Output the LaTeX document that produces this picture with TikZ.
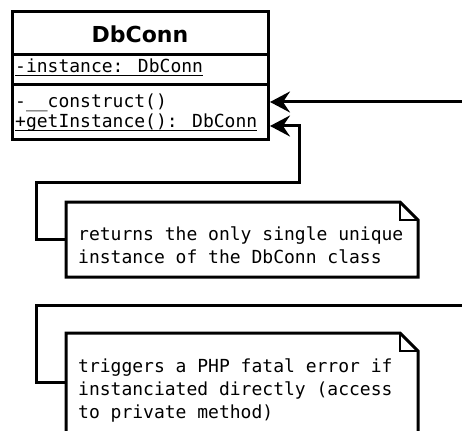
\documentclass[tikz,border=0pt]{standalone}
\usepackage{fontspec}
\setmainfont{DejaVu Sans}
\newfontfamily\codefont{DejaVu Sans Mono}
\usetikzlibrary{arrows.meta}

% underline drawn as a rule under the given text
\newcommand\umlstatic[1]{\setbox0\hbox{#1}\rlap{\rule[-3.5pt]{\wd0}{1.6pt}}\box0}

\tikzset{
  frame/.style={line width=3pt, line join=miter},
  thinline/.style={line width=1.5pt},
  link/.style={line width=3pt},
  openhead/.style={link, -{Stealth[length=20pt, width=21pt, inset=7pt]}},
  classbox/.style={draw, line width=3pt, fill=white, inner sep=0pt, outer sep=0pt,
                   minimum width=256pt, minimum height=128pt, anchor=north west},
  notebody/.style={inner sep=0pt, outer sep=0pt, anchor=north west},
  title/.style={font=\fontsize{22}{26}\selectfont\bfseries, anchor=base, inner sep=0pt},
  member/.style={font=\codefont\fontsize{18}{22}\selectfont, anchor=base west, inner sep=0pt},
}

\begin{document}
\begin{tikzpicture}[x=1pt, y=-1pt]
\useasboundingbox (0,0) rectangle (462,430);
\clip (0,0) rectangle (462,430);

% ---- class DbConn ----
\node[classbox] (dbconn) at (12,12) {};
\coordinate (sepA) at (12,55);
\coordinate (sepB) at (12,85);
\draw[frame] (sepA) -- (sepA -| dbconn.east);
\draw[frame] (sepB) -- (sepB -| dbconn.east);
\node[title] (cname) at (140,43) {DbConn};
\node[member] (attr) at (15,73) {\umlstatic{-instance: DbConn}};
\node[member] (ctor) at (15,108) {-\_\_construct()};
\node[member] (getter) at (15,128) {\umlstatic{+getInstance(): DbConn}};

% ---- note on getInstance ----
\node[notebody, minimum width=352pt, minimum height=75pt] (noteA) at (66,202) {};
\draw[frame, fill=white] (noteA.north west) -- ([xshift=-18pt]noteA.north east)
  -- ([yshift=-18pt]noteA.north east) -- (noteA.south east) -- (noteA.south west) -- cycle;
\draw[thinline] ([xshift=-18pt]noteA.north east) -- ([xshift=-18pt,yshift=-18pt]noteA.north east)
  -- ([yshift=-18pt]noteA.north east);
\node[member] (noteAa) at (78,240) {returns the only single unique};
\node[member] (noteAb) at (78,263) {instance of the DbConn class};

% ---- note on __construct ----
\node[notebody, minimum width=352pt, minimum height=110pt] (noteB) at (66,333) {};
\draw[frame, fill=white] (noteB.north west) -- ([xshift=-18pt]noteB.north east)
  -- ([yshift=-18pt]noteB.north east) -- (noteB.south east) -- (noteB.south west) -- cycle;
\draw[thinline] ([xshift=-18pt]noteB.north east) -- ([xshift=-18pt,yshift=-18pt]noteB.north east)
  -- ([yshift=-18pt]noteB.north east);
\node[member] (noteBa) at (78,372) {triggers a PHP fatal error if};
\node[member] (noteBb) at (78,395) {instanciated directly (access};
\node[member] (noteBc) at (78,418) {to private method)};

% ---- connectors ----
\coordinate (offright) at (480,102);
\coordinate (tipA) at (270,102);
\coordinate (tipB) at (270,126);
\coordinate (leftA) at (noteA.west |- 0,239);
\coordinate (leftB) at (noteB.west |- 0,382);
\coordinate (offrightB) at (480,305);

\draw[openhead] (offright) -- (tipA);
\draw[openhead, line join=miter] (leftA) -- (36,239) -- (36,183) -- (299,183) -- (299,126) -- (tipB);
\draw[link, line join=miter] (leftB) -- (36,382) -- (36,305) -- (offrightB);
\end{tikzpicture}
\end{document}
